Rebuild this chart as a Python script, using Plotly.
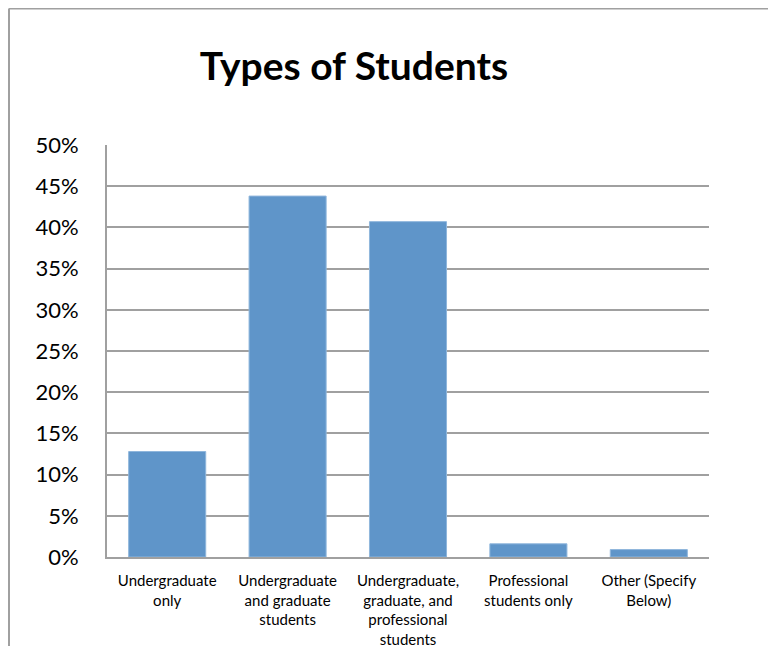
import plotly.graph_objects as go

categories = [
    "Undergraduate<br>only",
    "Undergraduate<br>and graduate<br>students",
    "Undergraduate,<br>graduate, and<br>professional<br>students",
    "Professional<br>students only",
    "Other (Specify<br>Below)",
]
values = [0.128, 0.438, 0.407, 0.016, 0.009]
y_ticks = [0, 0.05, 0.10, 0.15, 0.20, 0.25, 0.30, 0.35, 0.40, 0.45, 0.50]

# page body has an 8px margin; figure coordinates are offset accordingly
OFF = 8
W, H = 776 - 2 * OFF, 654 - 2 * OFF
L, R, T, B = 107 - OFF, 709 - OFF, 145 - OFF, 557 - OFF

def px_x(x):
    return (x - L) / (R - L)

def px_y(y):
    return (B - y) / (B - T)

fig = go.Figure(go.Bar(
    x=categories, y=values,
    marker=dict(color="#5f95c9", line=dict(color="#8fb6dc", width=1)),
    width=0.64,
))

border = dict(color="#a0a0a0", width=2)
fig.update_layout(
    width=W, height=H,
    margin=dict(l=L, r=W - R, t=T, b=H - B, autoexpand=False),
    paper_bgcolor="white", plot_bgcolor="white",
    font=dict(family="Lato, Noto Sans, sans-serif", color="black"),
    showlegend=False,
    title=dict(text="<b>Types of Students</b>", x=(354 - OFF) / W, xanchor="center",
               y=1 - (66 - OFF) / H, yanchor="middle", font=dict(size=39, color="black")),
    xaxis=dict(showgrid=False, showline=True, linecolor="#a0a0a0", linewidth=2,
               ticks="", tickfont=dict(size=15), ticklabelstandoff=9,
               automargin=False, fixedrange=True),
    yaxis=dict(range=[0, 0.5], tickvals=y_ticks, tickformat=".0%",
               showgrid=True, gridcolor="#a0a0a0", gridwidth=1.5,
               showline=True, linecolor="#a0a0a0", linewidth=2, zeroline=False,
               ticks="", tickfont=dict(size=22), ticklabelstandoff=22,
               automargin=False, fixedrange=True),
    shapes=[
        dict(type="line", xref="paper", yref="paper",
             x0=px_x(1), x1=px_x(W + 20), y0=px_y(0.5), y1=px_y(0.5), line=border),
        dict(type="line", xref="paper", yref="paper",
             x0=px_x(1), x1=px_x(1), y0=px_y(0.5), y1=px_y(H + 20), line=border),
    ],
)

fig.write_html("out.html")
